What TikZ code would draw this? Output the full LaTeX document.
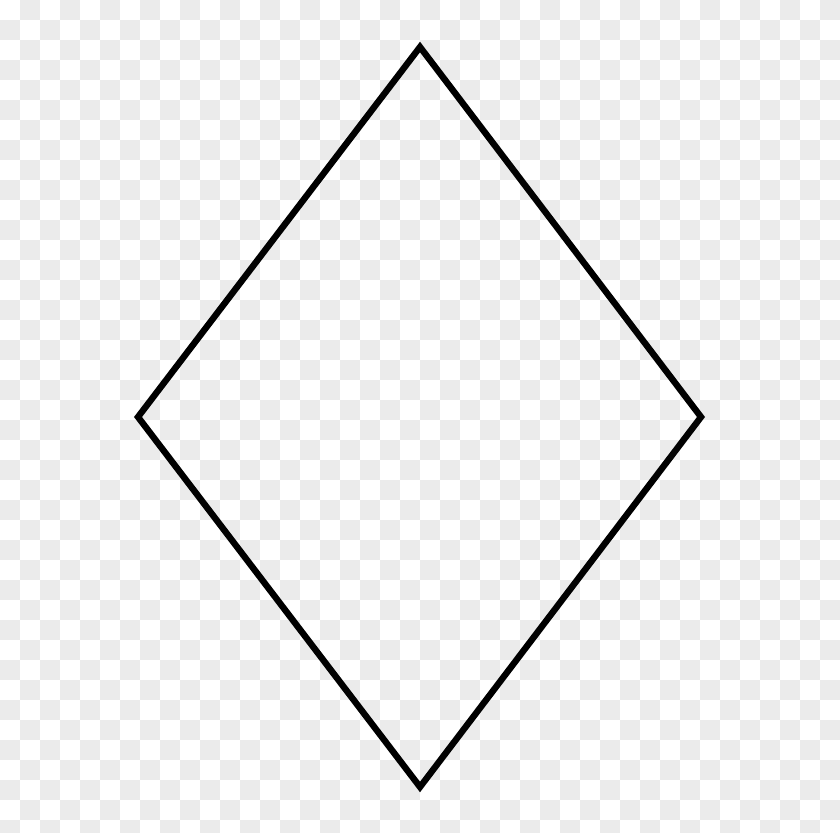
\documentclass[tikz,border=0pt]{standalone}
\definecolor{checkgray}{HTML}{EBEBEB}
\tikzset{
  checker/.style={fill=checkgray},
  rhombus/.style={draw=black, line width=3.2pt, line join=miter}
}
\begin{document}
\begin{tikzpicture}[x=0.5pt,y=-0.5pt]
\useasboundingbox (0,0) rectangle (840,833);
\fill[white] (0,0) rectangle (840,833);
\begin{scope}
\clip (0,0) rectangle (840,833);
\foreach \j in {0,...,41}{
  \pgfmathtruncatemacro\s{mod(\j+1,2)}
  \foreach \k in {0,...,20}{
    \fill[checker] ({(2*\k+\s)*20},{\j*20}) rectangle +(20,20);
  }
}
\end{scope}
\coordinate (top) at (420,47);
\coordinate (left) at (138,417);
\coordinate (bottom) at (420,787);
\coordinate (right) at (701,417);
\draw[rhombus] (top) -- (right) -- (bottom) -- (left) -- cycle;
\end{tikzpicture}
\end{document}
